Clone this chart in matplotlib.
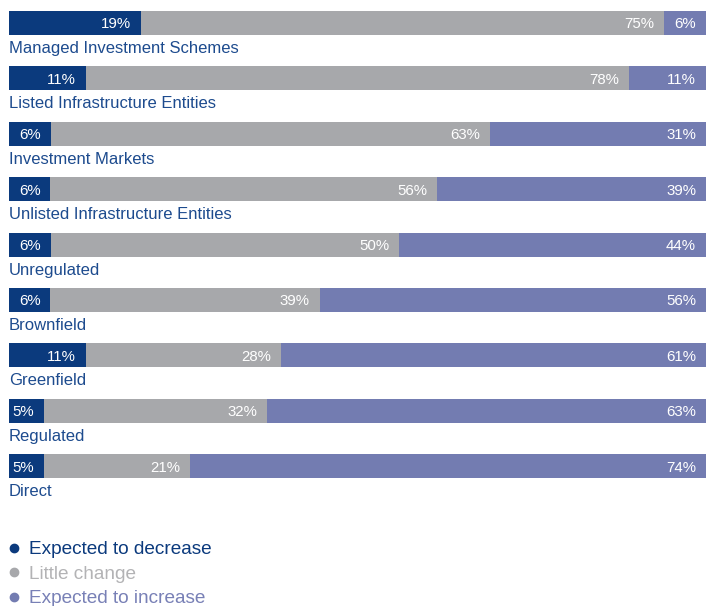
import matplotlib
matplotlib.use("Agg")
import matplotlib.pyplot as plt
from matplotlib.lines import Line2D

plt.rcParams['font.family'] = ['Liberation Sans', 'DejaVu Sans']

categories = ["Managed Investment Schemes", "Listed Infrastructure Entities",
              "Investment Markets", "Unlisted Infrastructure Entities",
              "Unregulated", "Brownfield", "Greenfield", "Regulated", "Direct"]
decrease = [19, 11, 6, 6, 6, 6, 11, 5, 5]
little = [75, 78, 63, 56, 50, 39, 28, 32, 21]
increase = [6, 11, 31, 39, 44, 56, 61, 63, 74]
series_names = ["Expected to decrease", "Little change", "Expected to increase"]

c_dec = "#0b3a7d"
c_lit = "#a7a8ab"
c_inc = "#737cb1"
c_lab = "#1d4b8e"
text_colors = [c_dec, "#b3b3b5", "#7880b6"]

W, H = 716, 606
fig = plt.figure(figsize=(W / 100, H / 100), dpi=100)
top_px, bot_px = 11, 478
left_px, right_px = 9, 706
ax = fig.add_axes([left_px / W, 1 - bot_px / H, (right_px - left_px) / W, (bot_px - top_px) / H])
step = (bot_px - top_px - 24) / 8.0
bh = 24 / step
ax.set_xlim(0, 1)
ax.set_ylim(8 + bh / 2, -bh / 2)
ax.axis('off')

pad = 10 / (right_px - left_px)
for i, cat in enumerate(categories):
    tot = decrease[i] + little[i] + increase[i]
    vals = [decrease[i] / tot, little[i] / tot, increase[i] / tot]
    raw = [decrease[i], little[i], increase[i]]
    left = 0
    for v, r, c in zip(vals, raw, [c_dec, c_lit, c_inc]):
        ax.barh(i, v, left=left, height=bh, color=c, linewidth=0)
        ax.text(left + v - pad, i, f"{r}%", ha='right', va='center_baseline',
                color='white', fontsize=10.8)
        left += v
    ax.text(0, i + bh / 2 + 6 / step, cat, ha='left', va='top', color=c_lab, fontsize=12)

handles = [Line2D([], [], marker='o', linestyle='none', markersize=6, color=c)
           for c in [c_dec, c_lit, c_inc]]
fig.legend(handles, series_names, loc='upper left', bbox_to_anchor=(7 / W, 1 - 541 / H),
           frameon=False, labelcolor=text_colors, fontsize=13.7, handlelength=0.7,
           handletextpad=0.45, labelspacing=0.38, borderaxespad=0, borderpad=0)

fig.savefig("out.png", dpi=100)
